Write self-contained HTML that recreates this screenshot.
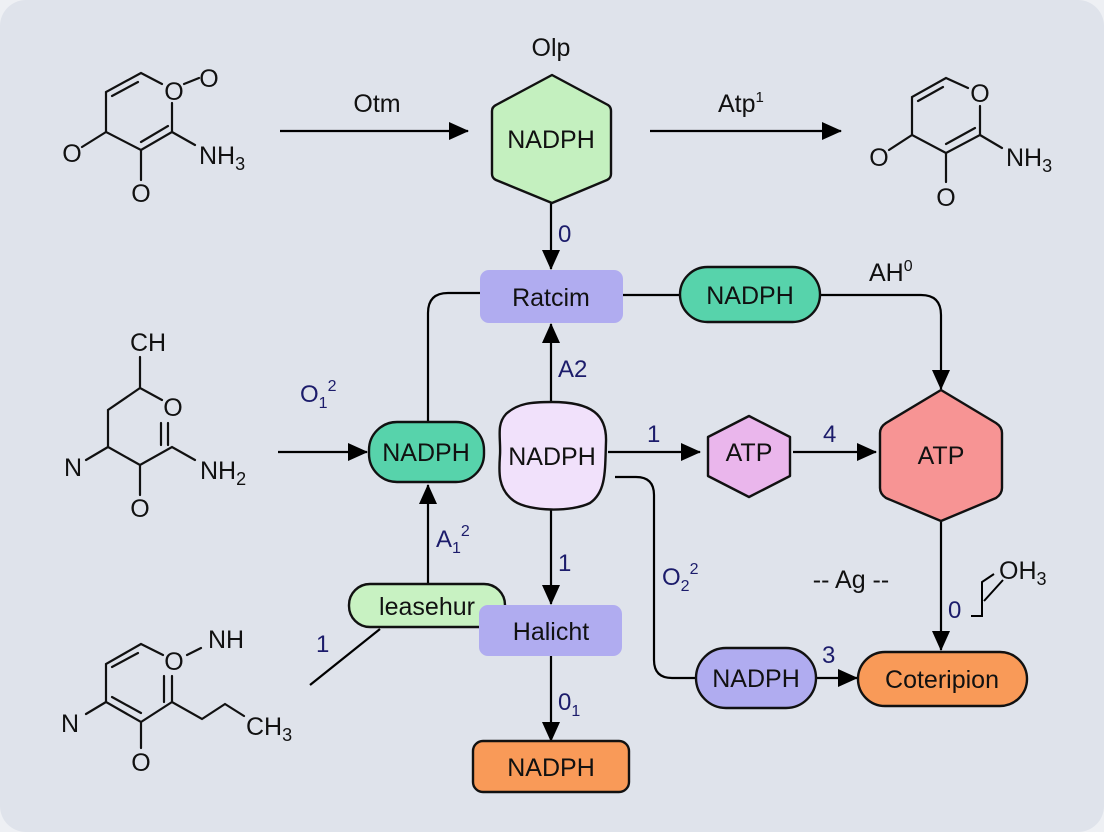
<!DOCTYPE html>
<html><head><meta charset="utf-8"><style>
html,body{margin:0;padding:0;background:#eef0f4;}
svg{display:block;}
text{font-family:"Liberation Sans",sans-serif;}
</style></head><body>
<svg width="1104" height="832" viewBox="0 0 1104 832" xmlns="http://www.w3.org/2000/svg">
<defs>
<marker id="ahb" markerWidth="20" markerHeight="20" refX="19" refY="10" orient="auto" markerUnits="userSpaceOnUse" viewBox="0 0 20 20">
<path d="M0,1 L20,10 L0,19 z" fill="#000"/></marker>
</defs>
<rect x="0" y="0" width="1104" height="832" rx="26" fill="#dfe3eb"/>

<g stroke="#111" stroke-width="2.2" fill="none" stroke-linecap="round">
<path d="M141,73 L106,92 L106,132 L141,150 L172,132 L172,103 M141,73 L162,84"/>
<path d="M138,82 L112,96 M141,142 L168,126"/>
<path d="M184,84 L199,78"/>
<path d="M106,132 L82,147 M141,150 L141,180 M172,132 L195,145"/>
<path d="M946,78 L912,97 L912,135 L946,153 L980,135 L980,106 M946,78 L968,88"/>
<path d="M943,87 L918,101 M946,144 L975,128"/>
<path d="M912,135 L889,150 M946,153 L946,182 M980,135 L1002,148"/>
<path d="M140,357 L140,388 L162,400 M140,388 L108,410 L108,447 L140,465 L172,447 L195,460 M140,465 L140,495 M108,447 L86,460"/>
<path d="M161,423 L161,445 M168,423 L168,445"/>
<path d="M141,644 L106,664 L106,702 L141,722 L172,702 L202,719 L225,704 L244,716 M141,644 L163,655 M141,722 L141,748 M106,702 L86,714 M187,655 L201,648"/>
<path d="M138,653 L112,667 M141,713 L112,697"/>
<path d="M164,676 L164,702 M172,676 L172,702"/>
</g>
<g font-size="25" fill="#111">
<text x="174" y="100" text-anchor="middle">O</text>
<text x="209" y="87" text-anchor="middle">O</text>
<text x="72" y="162" text-anchor="middle">O</text>
<text x="141" y="202" text-anchor="middle">O</text>
<text x="199" y="164">NH<tspan font-size="18" dy="6">3</tspan></text>
<text x="980" y="102" text-anchor="middle">O</text>
<text x="879" y="166" text-anchor="middle">O</text>
<text x="946" y="206" text-anchor="middle">O</text>
<text x="1006" y="166">NH<tspan font-size="18" dy="6">3</tspan></text>
<text x="148" y="351" text-anchor="middle">CH</text>
<text x="173" y="416" text-anchor="middle">O</text>
<text x="73" y="476" text-anchor="middle">N</text>
<text x="140" y="517" text-anchor="middle">O</text>
<text x="200" y="479">NH<tspan font-size="18" dy="6">2</tspan></text>
<text x="174" y="670" text-anchor="middle">O</text>
<text x="208" y="648">NH</text>
<text x="70" y="732" text-anchor="middle">N</text>
<text x="141" y="771" text-anchor="middle">O</text>
<text x="246" y="735">CH<tspan font-size="18" dy="6">3</tspan></text>
<text x="377" y="112" text-anchor="middle">Otm</text>
<text x="551" y="56" text-anchor="middle">Olp</text>
<text x="718" y="112">Atp<tspan font-size="15" dy="-10">1</tspan></text>
<text x="869" y="281">AH<tspan font-size="16" dy="-10">0</tspan></text>
<text x="851" y="588" text-anchor="middle">-- Ag --</text>
<text x="999" y="579">OH<tspan font-size="18" dy="6">3</tspan></text>
</g>

<g stroke="#000" stroke-width="2.2" fill="none">
<line x1="280" y1="131" x2="468" y2="131" marker-end="url(#ahb)"/>
<line x1="650" y1="131" x2="841" y2="131" marker-end="url(#ahb)"/>
<line x1="551" y1="203" x2="551" y2="269" marker-end="url(#ahb)"/>
<line x1="622" y1="295" x2="680" y2="295"/>
<path d="M820,295 L921,295 Q941,295 941,315 L941,389" marker-end="url(#ahb)"/>
<path d="M480,293 L448,293 Q428,293 428,313 L428,422"/>
<line x1="278" y1="452" x2="367" y2="452" marker-end="url(#ahb)"/>
<line x1="551" y1="402" x2="551" y2="324" marker-end="url(#ahb)"/>
<line x1="608" y1="452" x2="700" y2="452" marker-end="url(#ahb)"/>
<line x1="793" y1="452" x2="876" y2="452" marker-end="url(#ahb)"/>
<path d="M615,477 L636,477 Q654,477 654,495 L654,660 Q654,678 672,678 L696,678"/>
<line x1="816" y1="678" x2="857" y2="678" marker-end="url(#ahb)"/>
<line x1="941" y1="520" x2="941" y2="650" marker-end="url(#ahb)"/>
<line x1="551" y1="510" x2="551" y2="604" marker-end="url(#ahb)"/>
<line x1="551" y1="656" x2="551" y2="741" marker-end="url(#ahb)"/>
<line x1="428" y1="584" x2="428" y2="485" marker-end="url(#ahb)"/>
<line x1="310" y1="685" x2="380" y2="629"/>
<path d="M971,616 L982,616 L982,582 L994,574 M984,601 L1003,580" stroke-width="2"/>
</g>

<g stroke="#111" stroke-width="2.4" stroke-linejoin="round">
<path d="M552,75 L608,105 Q611,107 611,111 L611,174 Q611,178 607,180 L552,203 L496,180 Q492,178 492,174 L492,111 Q492,107 496,105 Z" fill="#c4f0bf"/>
<rect x="480" y="270" width="143" height="53" rx="9" fill="#b0acf0" stroke="none"/>
<rect x="680" y="267" width="140" height="55" rx="27.5" fill="#57d3ab"/>
<rect x="369" y="422" width="115" height="60" rx="28" fill="#57d3ab"/>
<path d="M552,402 C592,402 607,415 606,442 C605,472 606,492 590,503 C572,512 530,512 514,501 C497,489 499,470 500,455 C501,438 496,425 506,414 C518,403 532,402 552,402 Z" fill="#f1e1fb"/>
<path d="M749,416 L790,437 L790,476 L749,497 L708,476 L708,437 Z" fill="#eab6ec"/>
<path d="M941,390 L996,423 Q1002,427 1002,433 L1002,488 Q1002,494 996,498 L941,521 L886,498 Q880,494 880,488 L880,433 Q880,427 886,423 Z" fill="#f79494"/>
<rect x="349" y="584" width="156" height="43" rx="21" fill="#c8f2c2"/>
<rect x="479" y="605" width="143" height="51" rx="9" fill="#b0acf0" stroke="none"/>
<rect x="473" y="741" width="156" height="51" rx="10" fill="#f99a58"/>
<rect x="696" y="648" width="120" height="60" rx="30" fill="#b0acf0"/>
<rect x="858" y="652" width="169" height="54" rx="27" fill="#f99a58"/>
</g>
<g font-size="25" fill="#111" text-anchor="middle">
<text x="551" y="148">NADPH</text>
<text x="551" y="306">Ratcim</text>
<text x="750" y="304">NADPH</text>
<text x="426" y="461">NADPH</text>
<text x="552" y="465">NADPH</text>
<text x="749" y="461">ATP</text>
<text x="941" y="464">ATP</text>
<text x="427" y="615">leasehur</text>
<text x="551" y="640">Halicht</text>
<text x="551" y="776">NADPH</text>
<text x="756" y="687">NADPH</text>
<text x="942" y="688">Coteripion</text>
</g>
<g font-size="24" fill="#1c1c6b">
<text x="558" y="242">0</text>
<text x="558" y="377">A2</text>
<text x="300" y="402">O<tspan font-size="16" dy="6">1</tspan><tspan font-size="16" dy="-17">2</tspan></text>
<text x="647" y="442">1</text>
<text x="823" y="442">4</text>
<text x="436" y="547">A<tspan font-size="16" dy="6">1</tspan><tspan font-size="16" dy="-17">2</tspan></text>
<text x="558" y="571">1</text>
<text x="662" y="585">O<tspan font-size="16" dy="6">2</tspan><tspan font-size="16" dy="-17">2</tspan></text>
<text x="558" y="710">0<tspan font-size="16" dy="6">1</tspan></text>
<text x="316" y="652">1</text>
<text x="822" y="663">3</text>
<text x="948" y="618">0</text>
</g>
</svg>
</body></html>
